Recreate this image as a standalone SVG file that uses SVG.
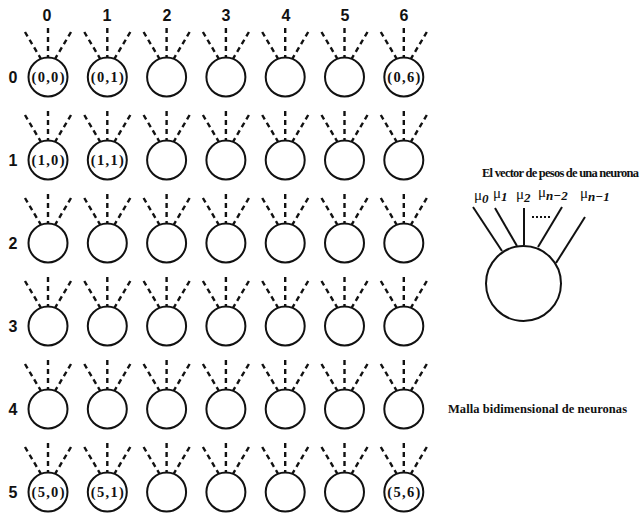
<svg xmlns="http://www.w3.org/2000/svg" xmlns:xlink="http://www.w3.org/1999/xlink" width="641" height="513" viewBox="0 0 641 513">
<style>
  .cell { fill: #fff; stroke: #111; stroke-width: 2; }
  .ray { stroke: #111; stroke-width: 2.4; fill: none; stroke-dasharray: 5 4; }
  .idx { font-family: "Liberation Sans", "DejaVu Sans", sans-serif; font-size: 16px; font-weight: bold; fill: #111; text-anchor: middle; }
  .coord { font-family: "Liberation Serif", "DejaVu Serif", serif; font-size: 14.5px; font-weight: bold; fill: #111; text-anchor: middle; }
  .cap { font-family: "Liberation Serif", "DejaVu Serif", serif; font-size: 12.5px; font-weight: bold; fill: #111; }
  .mu { font-family: "Liberation Serif", "DejaVu Serif", serif; font-size: 15px; fill: #111; }
  .sub { font-style: italic; font-size: 13px; font-weight: bold; }
  .wire { stroke: #111; stroke-width: 2; fill: none; }
</style>
<defs>
  <!-- three dashed input lines entering the top of a neuron -->
  <g id="rays">
    <line class="ray" x1="0" y1="-49" x2="0" y2="-19"/>
    <line class="ray" x1="-23" y1="-45" x2="-7" y2="-18"/>
    <line class="ray" x1="23" y1="-45" x2="7" y2="-18"/>
  </g>
  <g id="neuron">
    <use href="#rays"/>
    <circle class="cell" r="19.5"/>
  </g>
</defs>

<!-- column indices -->
<g id="col-labels">
  <text class="idx" x="47" y="21">0</text>
  <text class="idx" x="107" y="21">1</text>
  <text class="idx" x="167" y="21">2</text>
  <text class="idx" x="226" y="21">3</text>
  <text class="idx" x="286" y="21">4</text>
  <text class="idx" x="345" y="21">5</text>
  <text class="idx" x="404" y="21">6</text>
</g>

<!-- row indices -->
<g id="row-labels">
  <text class="idx" x="13" y="83">0</text>
  <text class="idx" x="13" y="166">1</text>
  <text class="idx" x="13" y="249">2</text>
  <text class="idx" x="13" y="332">3</text>
  <text class="idx" x="13" y="415">4</text>
  <text class="idx" x="13" y="498">5</text>
</g>

<!-- row 0 -->
<g id="n-0-0" transform="translate(48,77)"><use href="#neuron"/><text class="coord" y="5" textLength="33">(0,0)</text></g>
<g id="n-0-1" transform="translate(107.3,77)"><use href="#neuron"/><text class="coord" y="5" textLength="33">(0,1)</text></g>
<g id="n-0-2" transform="translate(166.6,77)"><use href="#neuron"/></g>
<g id="n-0-3" transform="translate(225.9,77)"><use href="#neuron"/></g>
<g id="n-0-4" transform="translate(285.2,77)"><use href="#neuron"/></g>
<g id="n-0-5" transform="translate(344.5,77)"><use href="#neuron"/></g>
<g id="n-0-6" transform="translate(403.8,77)"><use href="#neuron"/><text class="coord" y="5" textLength="33">(0,6)</text></g>

<!-- row 1 -->
<g id="n-1-0" transform="translate(48,160)"><use href="#neuron"/><text class="coord" y="5" textLength="33">(1,0)</text></g>
<g id="n-1-1" transform="translate(107.3,160)"><use href="#neuron"/><text class="coord" y="5" textLength="33">(1,1)</text></g>
<g id="n-1-2" transform="translate(166.6,160)"><use href="#neuron"/></g>
<g id="n-1-3" transform="translate(225.9,160)"><use href="#neuron"/></g>
<g id="n-1-4" transform="translate(285.2,160)"><use href="#neuron"/></g>
<g id="n-1-5" transform="translate(344.5,160)"><use href="#neuron"/></g>
<g id="n-1-6" transform="translate(403.8,160)"><use href="#neuron"/></g>

<!-- row 2 -->
<g id="n-2-0" transform="translate(48,243)"><use href="#neuron"/></g>
<g id="n-2-1" transform="translate(107.3,243)"><use href="#neuron"/></g>
<g id="n-2-2" transform="translate(166.6,243)"><use href="#neuron"/></g>
<g id="n-2-3" transform="translate(225.9,243)"><use href="#neuron"/></g>
<g id="n-2-4" transform="translate(285.2,243)"><use href="#neuron"/></g>
<g id="n-2-5" transform="translate(344.5,243)"><use href="#neuron"/></g>
<g id="n-2-6" transform="translate(403.8,243)"><use href="#neuron"/></g>

<!-- row 3 -->
<g id="n-3-0" transform="translate(48,326)"><use href="#neuron"/></g>
<g id="n-3-1" transform="translate(107.3,326)"><use href="#neuron"/></g>
<g id="n-3-2" transform="translate(166.6,326)"><use href="#neuron"/></g>
<g id="n-3-3" transform="translate(225.9,326)"><use href="#neuron"/></g>
<g id="n-3-4" transform="translate(285.2,326)"><use href="#neuron"/></g>
<g id="n-3-5" transform="translate(344.5,326)"><use href="#neuron"/></g>
<g id="n-3-6" transform="translate(403.8,326)"><use href="#neuron"/></g>

<!-- row 4 -->
<g id="n-4-0" transform="translate(48,409)"><use href="#neuron"/></g>
<g id="n-4-1" transform="translate(107.3,409)"><use href="#neuron"/></g>
<g id="n-4-2" transform="translate(166.6,409)"><use href="#neuron"/></g>
<g id="n-4-3" transform="translate(225.9,409)"><use href="#neuron"/></g>
<g id="n-4-4" transform="translate(285.2,409)"><use href="#neuron"/></g>
<g id="n-4-5" transform="translate(344.5,409)"><use href="#neuron"/></g>
<g id="n-4-6" transform="translate(403.8,409)"><use href="#neuron"/></g>

<!-- row 5 -->
<g id="n-5-0" transform="translate(48,492)"><use href="#neuron"/><text class="coord" y="5" textLength="33">(5,0)</text></g>
<g id="n-5-1" transform="translate(107.3,492)"><use href="#neuron"/><text class="coord" y="5" textLength="33">(5,1)</text></g>
<g id="n-5-2" transform="translate(166.6,492)"><use href="#neuron"/></g>
<g id="n-5-3" transform="translate(225.9,492)"><use href="#neuron"/></g>
<g id="n-5-4" transform="translate(285.2,492)"><use href="#neuron"/></g>
<g id="n-5-5" transform="translate(344.5,492)"><use href="#neuron"/></g>
<g id="n-5-6" transform="translate(403.8,492)"><use href="#neuron"/><text class="coord" y="5" textLength="33">(5,6)</text></g>

<!-- single neuron with its weight vector -->
<g id="detail">
  <text class="cap" x="482" y="177" textLength="157">El vector de pesos de una neurona</text>
  <g id="weights">
    <line class="wire" x1="473" y1="207" x2="502" y2="251"/>
    <line class="wire" x1="495" y1="208" x2="517" y2="246"/>
    <line class="wire" x1="524" y1="208" x2="524" y2="245"/>
    <line class="wire" x1="562" y1="207" x2="538" y2="247"/>
    <line class="wire" x1="585" y1="217" x2="556" y2="263"/>
    <line x1="532" y1="217" x2="551" y2="217" stroke="#111" stroke-width="2" stroke-dasharray="2 2"/>
  </g>
  <circle class="cell" cx="523.5" cy="283.5" r="37.5"/>
  <text class="mu" x="474" y="200">μ<tspan class="sub" dy="3">0</tspan></text>
  <text class="mu" x="493" y="198">μ<tspan class="sub" dy="3">1</tspan></text>
  <text class="mu" x="516" y="199">μ<tspan class="sub" dy="3">2</tspan></text>
  <text class="mu" x="538" y="197">μ<tspan class="sub" dy="3">n−2</tspan></text>
  <text class="mu" x="580" y="198">μ<tspan class="sub" dy="3">n−1</tspan></text>
</g>

<text id="caption" class="cap" x="448" y="413" textLength="179">Malla bidimensional de neuronas</text>
</svg>
